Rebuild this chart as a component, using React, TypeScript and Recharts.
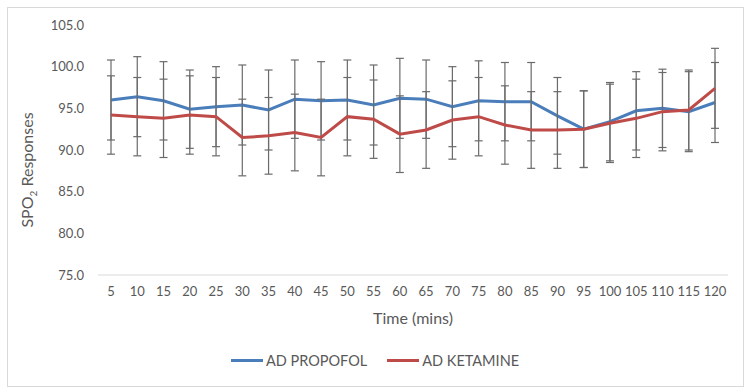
import React from 'react';
import { LineChart, Line, XAxis, YAxis, ErrorBar, Legend } from 'recharts';

const times = [5, 10, 15, 20, 25, 30, 35, 40, 45, 50, 55, 60, 65, 70, 75, 80, 85, 90, 95, 100, 105, 110, 115, 120];
const propofol = [96.0, 96.4, 95.9, 94.9, 95.2, 95.4, 94.8, 96.1, 95.9, 96.0, 95.4, 96.2, 96.1, 95.2, 95.9, 95.8, 95.8, 94.1, 92.5, 93.4, 94.7, 95.0, 94.6, 95.7];
const propofolSd = [4.8, 4.8, 4.7, 4.7, 4.8, 4.8, 4.8, 4.7, 4.7, 4.8, 4.8, 4.8, 4.7, 4.8, 4.8, 4.7, 4.7, 4.6, 4.6, 4.7, 4.7, 4.7, 4.8, 4.8];
const ketamine = [94.2, 94.0, 93.8, 94.2, 94.0, 91.5, 91.7, 92.1, 91.5, 94.0, 93.7, 91.9, 92.4, 93.6, 94.0, 93.0, 92.4, 92.4, 92.5, 93.2, 93.8, 94.6, 94.8, 97.4];
const ketamineSd = [4.7, 4.7, 4.7, 4.7, 4.7, 4.6, 4.6, 4.6, 4.6, 4.7, 4.7, 4.6, 4.6, 4.7, 4.7, 4.7, 4.6, 4.6, 4.6, 4.7, 4.7, 4.7, 4.8, 4.8];
const yTicks = [75, 80, 85, 90, 95, 100, 105];

const series = [
  { key: 'propofol', name: 'AD PROPOFOL', color: '#4A7EBB' },
  { key: 'ketamine', name: 'AD KETAMINE', color: '#BE4B48' },
];

const data = times.map((t, i) => ({
  time: t,
  propofol: propofol[i],
  propofolSd: propofolSd[i],
  ketamine: ketamine[i],
  ketamineSd: ketamineSd[i],
}));

const FONT = 'Lato, "Liberation Sans", sans-serif';
const TEXT = '#595959';

const YTitle = () => (
  <text
    x={33}
    y={170}
    transform="rotate(-90, 33, 170)"
    textAnchor="middle"
    fill={TEXT}
    fontSize={16}
    fontFamily={FONT}
  >
    SPO<tspan dy={4} fontSize={10}>2</tspan>
    <tspan dy={-4}> Responses</tspan>
  </text>
);

const XTitle = (props: any) => {
  const vb = props.viewBox;
  return (
    <text x={vb.x + vb.width / 2} y={324} textAnchor="middle" fill={TEXT} fontSize={16} fontFamily={FONT}>
      Time (mins)
    </text>
  );
};

const LegendBox = () => (
  <div style={{ display: 'flex', justifyContent: 'center', gap: 20, fontFamily: FONT, fontSize: 14.5, color: TEXT }}>
    {series.map((s) => (
      <div key={s.key} style={{ display: 'flex', alignItems: 'center' }}>
        <span style={{ display: 'inline-block', width: 32, height: 3, background: s.color, marginRight: 3 }} />
        <span>{s.name}</span>
      </div>
    ))}
  </div>
);

export default function App() {
  return (
    <div style={{ position: 'absolute', left: 0, top: 0, width: 750, height: 392, background: '#fff' }}>
      <div
        style={{
          position: 'absolute',
          left: 7,
          top: 7,
          width: 737,
          height: 380,
          border: '1px solid #d9d9d9',
          boxSizing: 'border-box',
        }}
      />
      <LineChart width={750} height={392} data={data} margin={{ top: 25, right: 22, left: 0, bottom: 67 }}>
        <XAxis
          dataKey="time"
          height={50}
          padding={{ left: 13, right: 13 }}
          axisLine={{ stroke: '#d9d9d9' }}
          tickLine={false}
          tickMargin={6}
          tick={{ fill: TEXT, fontSize: 13, fontFamily: FONT }}
          interval={0}
          label={<XTitle />}
        />
        <YAxis
          width={98}
          domain={[75, 105]}
          ticks={yTicks}
          axisLine={false}
          tickLine={false}
          tickMargin={8}
          tickFormatter={(v: number) => v.toFixed(1)}
          tick={{ fill: TEXT, fontSize: 13, fontFamily: FONT }}
          label={<YTitle />}
        />
        <Legend
          verticalAlign="middle"
          align="center"
          content={<LegendBox />}
          wrapperStyle={{ top: 352, left: 0, width: 750 }}
        />
        {series.map((s) => (
          <Line
            key={s.key}
            type="linear"
            dataKey={s.key}
            name={s.name}
            stroke={s.color}
            strokeWidth={3}
            dot={false}
            isAnimationActive={false}
          >
            <ErrorBar
              dataKey={s.key + 'Sd'}
              direction="y"
              width={4}
              stroke="#6b6b6b"
              strokeWidth={1.2}
              isAnimationActive={false}
            />
          </Line>
        ))}
      </LineChart>
    </div>
  );
}
